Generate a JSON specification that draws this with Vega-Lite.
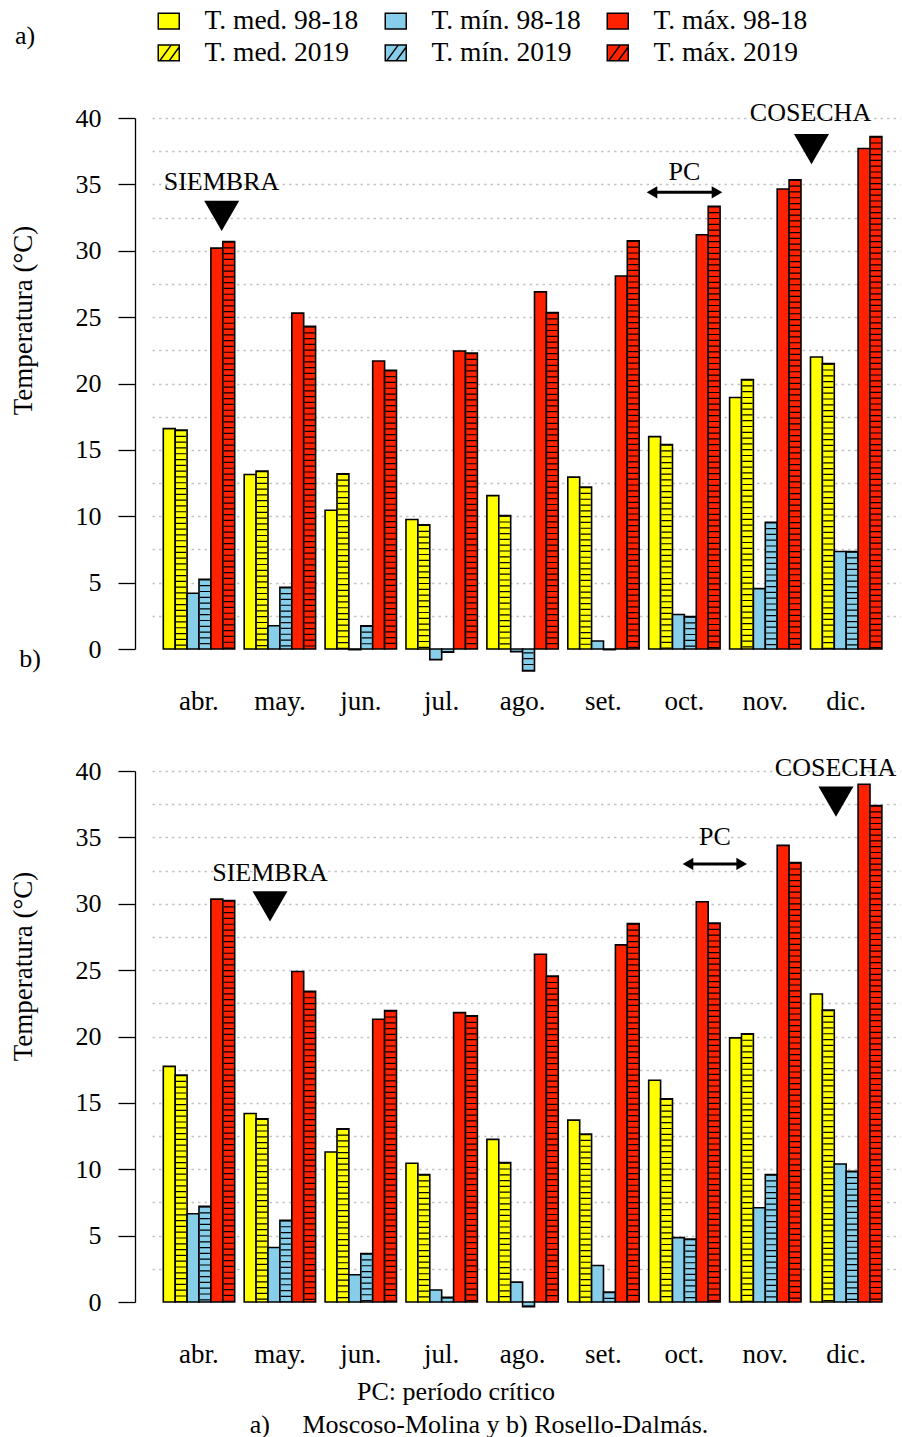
{
  "$schema": "https://vega.github.io/schema/vega-lite/v6.json",
  "padding": {"left": 9, "top": 7, "right": 2, "bottom": 5},
  "bounds": "flush",
  "spacing": 122,
  "datasets": {
    "a": [
      {"m": "abr.", "s": "T. med. 98-18", "v": 16.6}, {"m": "abr.", "s": "T. med. 2019", "v": 16.5}, {"m": "abr.", "s": "T. mín. 98-18", "v": 4.2}, {"m": "abr.", "s": "T. mín. 2019", "v": 5.25}, {"m": "abr.", "s": "T. máx. 98-18", "v": 30.2}, {"m": "abr.", "s": "T. máx. 2019", "v": 30.7},
      {"m": "may.", "s": "T. med. 98-18", "v": 13.15}, {"m": "may.", "s": "T. med. 2019", "v": 13.4}, {"m": "may.", "s": "T. mín. 98-18", "v": 1.75}, {"m": "may.", "s": "T. mín. 2019", "v": 4.65}, {"m": "may.", "s": "T. máx. 98-18", "v": 25.3}, {"m": "may.", "s": "T. máx. 2019", "v": 24.3},
      {"m": "jun.", "s": "T. med. 98-18", "v": 10.45}, {"m": "jun.", "s": "T. med. 2019", "v": 13.2}, {"m": "jun.", "s": "T. mín. 98-18", "v": -0.05}, {"m": "jun.", "s": "T. mín. 2019", "v": 1.75}, {"m": "jun.", "s": "T. máx. 98-18", "v": 21.7}, {"m": "jun.", "s": "T. máx. 2019", "v": 21.0},
      {"m": "jul.", "s": "T. med. 98-18", "v": 9.75}, {"m": "jul.", "s": "T. med. 2019", "v": 9.35}, {"m": "jul.", "s": "T. mín. 98-18", "v": -0.8}, {"m": "jul.", "s": "T. mín. 2019", "v": -0.25}, {"m": "jul.", "s": "T. máx. 98-18", "v": 22.45}, {"m": "jul.", "s": "T. máx. 2019", "v": 22.3},
      {"m": "ago.", "s": "T. med. 98-18", "v": 11.55}, {"m": "ago.", "s": "T. med. 2019", "v": 10.05}, {"m": "ago.", "s": "T. mín. 98-18", "v": -0.2}, {"m": "ago.", "s": "T. mín. 2019", "v": -1.65}, {"m": "ago.", "s": "T. máx. 98-18", "v": 26.9}, {"m": "ago.", "s": "T. máx. 2019", "v": 25.35},
      {"m": "set.", "s": "T. med. 98-18", "v": 12.95}, {"m": "set.", "s": "T. med. 2019", "v": 12.2}, {"m": "set.", "s": "T. mín. 98-18", "v": 0.6}, {"m": "set.", "s": "T. mín. 2019", "v": -0.05}, {"m": "set.", "s": "T. máx. 98-18", "v": 28.1}, {"m": "set.", "s": "T. máx. 2019", "v": 30.75},
      {"m": "oct.", "s": "T. med. 98-18", "v": 16.0}, {"m": "oct.", "s": "T. med. 2019", "v": 15.4}, {"m": "oct.", "s": "T. mín. 98-18", "v": 2.6}, {"m": "oct.", "s": "T. mín. 2019", "v": 2.45}, {"m": "oct.", "s": "T. máx. 98-18", "v": 31.2}, {"m": "oct.", "s": "T. máx. 2019", "v": 33.35},
      {"m": "nov.", "s": "T. med. 98-18", "v": 18.95}, {"m": "nov.", "s": "T. med. 2019", "v": 20.3}, {"m": "nov.", "s": "T. mín. 98-18", "v": 4.55}, {"m": "nov.", "s": "T. mín. 2019", "v": 9.55}, {"m": "nov.", "s": "T. máx. 98-18", "v": 34.65}, {"m": "nov.", "s": "T. máx. 2019", "v": 35.35},
      {"m": "dic.", "s": "T. med. 98-18", "v": 22.0}, {"m": "dic.", "s": "T. med. 2019", "v": 21.5}, {"m": "dic.", "s": "T. mín. 98-18", "v": 7.35}, {"m": "dic.", "s": "T. mín. 2019", "v": 7.35}, {"m": "dic.", "s": "T. máx. 98-18", "v": 37.7}, {"m": "dic.", "s": "T. máx. 2019", "v": 38.6}
    ],
    "b": [
      {"m": "abr.", "s": "T. med. 98-18", "v": 17.75}, {"m": "abr.", "s": "T. med. 2019", "v": 17.1}, {"m": "abr.", "s": "T. mín. 98-18", "v": 6.65}, {"m": "abr.", "s": "T. mín. 2019", "v": 7.2}, {"m": "abr.", "s": "T. máx. 98-18", "v": 30.35}, {"m": "abr.", "s": "T. máx. 2019", "v": 30.25},
      {"m": "may.", "s": "T. med. 98-18", "v": 14.2}, {"m": "may.", "s": "T. med. 2019", "v": 13.8}, {"m": "may.", "s": "T. mín. 98-18", "v": 4.1}, {"m": "may.", "s": "T. mín. 2019", "v": 6.15}, {"m": "may.", "s": "T. máx. 98-18", "v": 24.9}, {"m": "may.", "s": "T. máx. 2019", "v": 23.4},
      {"m": "jun.", "s": "T. med. 98-18", "v": 11.3}, {"m": "jun.", "s": "T. med. 2019", "v": 13.05}, {"m": "jun.", "s": "T. mín. 98-18", "v": 2.05}, {"m": "jun.", "s": "T. mín. 2019", "v": 3.65}, {"m": "jun.", "s": "T. máx. 98-18", "v": 21.3}, {"m": "jun.", "s": "T. máx. 2019", "v": 21.95},
      {"m": "jul.", "s": "T. med. 98-18", "v": 10.45}, {"m": "jul.", "s": "T. med. 2019", "v": 9.6}, {"m": "jul.", "s": "T. mín. 98-18", "v": 0.9}, {"m": "jul.", "s": "T. mín. 2019", "v": 0.35}, {"m": "jul.", "s": "T. máx. 98-18", "v": 21.8}, {"m": "jul.", "s": "T. máx. 2019", "v": 21.55},
      {"m": "ago.", "s": "T. med. 98-18", "v": 12.25}, {"m": "ago.", "s": "T. med. 2019", "v": 10.5}, {"m": "ago.", "s": "T. mín. 98-18", "v": 1.5}, {"m": "ago.", "s": "T. mín. 2019", "v": -0.35}, {"m": "ago.", "s": "T. máx. 98-18", "v": 26.2}, {"m": "ago.", "s": "T. máx. 2019", "v": 24.55},
      {"m": "set.", "s": "T. med. 98-18", "v": 13.7}, {"m": "set.", "s": "T. med. 2019", "v": 12.65}, {"m": "set.", "s": "T. mín. 98-18", "v": 2.75}, {"m": "set.", "s": "T. mín. 2019", "v": 0.75}, {"m": "set.", "s": "T. máx. 98-18", "v": 26.9}, {"m": "set.", "s": "T. máx. 2019", "v": 28.5},
      {"m": "oct.", "s": "T. med. 98-18", "v": 16.7}, {"m": "oct.", "s": "T. med. 2019", "v": 15.3}, {"m": "oct.", "s": "T. mín. 98-18", "v": 4.85}, {"m": "oct.", "s": "T. mín. 2019", "v": 4.75}, {"m": "oct.", "s": "T. máx. 98-18", "v": 30.15}, {"m": "oct.", "s": "T. máx. 2019", "v": 28.55},
      {"m": "nov.", "s": "T. med. 98-18", "v": 19.9}, {"m": "nov.", "s": "T. med. 2019", "v": 20.2}, {"m": "nov.", "s": "T. mín. 98-18", "v": 7.1}, {"m": "nov.", "s": "T. mín. 2019", "v": 9.6}, {"m": "nov.", "s": "T. máx. 98-18", "v": 34.4}, {"m": "nov.", "s": "T. máx. 2019", "v": 33.1},
      {"m": "dic.", "s": "T. med. 98-18", "v": 23.2}, {"m": "dic.", "s": "T. med. 2019", "v": 22.0}, {"m": "dic.", "s": "T. mín. 98-18", "v": 10.4}, {"m": "dic.", "s": "T. mín. 2019", "v": 9.85}, {"m": "dic.", "s": "T. máx. 98-18", "v": 39.0}, {"m": "dic.", "s": "T. máx. 2019", "v": 37.4}
    ],
    "one": [{}]
  },
  "vconcat": [
    {
      "width": 748, "height": 531,
      "encoding": {
        "x": {"type": "nominal", "scale": {"domain": ["abr.", "may.", "jun.", "jul.", "ago.", "set.", "oct.", "nov.", "dic."], "paddingInner": 0.1174, "paddingOuter": 0.1817, "align": 0.384},
              "axis": {"title": null, "domain": false, "ticks": false, "labelAngle": 0, "labelFont": "Liberation Serif", "labelFontSize": 27, "labelColor": "black", "labelPadding": 39}},
        "y": {"type": "quantitative", "scale": {"domain": [0, 40], "nice": false, "zero": false},
              "axis": {"orient": "left", "values": [0, 2.5, 5, 7.5, 10, 12.5, 15, 17.5, 20, 22.5, 25, 27.5, 30, 32.5, 35, 37.5, 40],
                       "labelExpr": "datum.value % 5 === 0 ? datum.label : ''",
                       "grid": true, "gridDash": [2.5, 4], "gridWidth": 1.4, "gridColor": {"expr": "datum.value === 0 ? 'transparent' : '#c4c4c4'"},
                       "offset": 17, "tickSize": 17, "tickColor": {"expr": "datum.value % 5 === 0 ? 'black' : 'transparent'"}, "tickWidth": 1.3, "domainColor": "black", "domainWidth": 1.3,
                       "labelFont": "Liberation Serif", "labelFontSize": 26, "labelColor": "black", "labelPadding": 17,
                       "title": "Temperatura (°C)", "titleFont": "Liberation Serif", "titleFontSize": 27, "titleFontWeight": "normal", "titleColor": "black", "titleX": -98, "titleY": 202}}
      },
      "layer": [
        {
          "data": {"name": "a"},
          "mark": {"type": "bar", "stroke": "#000000", "strokeWidth": 1.6},
          "encoding": {
            "x": {"field": "m"},
            "xOffset": {"field": "s", "type": "nominal", "scale": {"domain": ["T. med. 98-18", "T. med. 2019", "T. mín. 98-18", "T. mín. 2019", "T. máx. 98-18", "T. máx. 2019"], "paddingInner": 0, "paddingOuter": 0}},
            "y": {"field": "v"},
            "fill": {"field": "s", "type": "nominal",
                     "scale": {"domain": ["T. med. 98-18", "T. mín. 98-18", "T. máx. 98-18", "T. med. 2019", "T. mín. 2019", "T. máx. 2019"], "range": ["#FFFF00", "#87CEEB", "#FF2200", "#FFFF00", "#87CEEB", "#FF2200"]},
                     "legend": {"orient": "none", "legendX": 3, "legendY": -111, "columns": 3, "direction": "horizontal", "title": null, "symbolSize": 441, "padding": 0,
                                "labelFont": "Liberation Serif", "labelFontSize": 27.5, "labelColor": "black", "labelOffset": 22, "columnPadding": 23, "rowPadding": 3,
                                "symbolStrokeColor": "black", "symbolStrokeWidth": 1.5,
                                "encode": {"symbols": {"update": {"shape": {"signal": "indexof(datum.value, '2019') >= 0 ? 'M-1,-0.75H1V0.75H-1Z M-0.85,0.75L0.25,-0.75 M0.05,0.75L1,-0.55' : 'M-1,-0.75H1V0.75H-1Z'"}, "stroke": {"value": "black"}, "strokeWidth": {"value": 1.5}}}}}}
          }
        },
        {
          "data": {"name": "a"},
          "transform": [{"filter": {"field": "s", "oneOf": ["T. med. 2019", "T. mín. 2019", "T. máx. 2019"]}}],
          "mark": {"type": "rule", "color": "black", "strokeWidth": 10.2, "strokeDash": [1.2, 4.6], "strokeCap": "butt"},
          "encoding": {
            "x": {"field": "m"},
            "xOffset": {"field": "s", "type": "nominal"},
            "y": {"field": "v"},
            "y2": {"datum": 0}
          }
        },
        {"data": {"name": "one"}, "mark": {"type": "text", "font": "Liberation Serif", "fontSize": 26, "color": "black", "baseline": "middle", "xOffset": 22.5},
         "encoding": {"x": {"datum": "abr."}, "y": {"datum": 35.2}, "text": {"value": "SIEMBRA"}}},
        {"data": {"name": "one"}, "mark": {"type": "point", "shape": "triangle-down", "filled": true, "color": "black", "opacity": 1, "size": 1225, "xOffset": 22.7},
         "encoding": {"x": {"datum": "abr."}, "y": {"datum": 32.62}}},
        {"data": {"name": "one"}, "mark": {"type": "text", "font": "Liberation Serif", "fontSize": 26, "color": "black", "baseline": "middle", "xOffset": 0},
         "encoding": {"x": {"datum": "oct."}, "y": {"datum": 35.9}, "text": {"value": "PC"}}},
        {"data": {"name": "one"}, "mark": {"type": "rule", "color": "black", "strokeWidth": 3, "xOffset": -33, "x2Offset": 33},
         "encoding": {"x": {"datum": "oct."}, "x2": {"datum": "oct."}, "y": {"datum": 34.4}}},
        {"data": {"name": "one"}, "mark": {"type": "point", "shape": "triangle-left", "filled": true, "color": "black", "opacity": 1, "size": 150, "xOffset": -32.4},
         "encoding": {"x": {"datum": "oct."}, "y": {"datum": 34.4}}},
        {"data": {"name": "one"}, "mark": {"type": "point", "shape": "triangle-right", "filled": true, "color": "black", "opacity": 1, "size": 150, "xOffset": 32.6},
         "encoding": {"x": {"datum": "oct."}, "y": {"datum": 34.4}}},
        {"data": {"name": "one"}, "mark": {"type": "text", "font": "Liberation Serif", "fontSize": 26, "color": "black", "baseline": "middle", "xOffset": -35.7},
         "encoding": {"x": {"datum": "dic."}, "y": {"datum": 40.4}, "text": {"value": "COSECHA"}}},
        {"data": {"name": "one"}, "mark": {"type": "point", "shape": "triangle-down", "filled": true, "color": "black", "opacity": 1, "size": 1225, "xOffset": -34.7},
         "encoding": {"x": {"datum": "dic."}, "y": {"datum": 37.66}}},
        {"data": {"name": "one"}, "mark": {"type": "text", "font": "Liberation Serif", "fontSize": 26, "color": "black", "baseline": "middle", "xOffset": -174},
         "encoding": {"x": {"datum": "abr."}, "y": {"datum": 46.2}, "text": {"value": "a)"}}}
      ]
    },
    {
      "width": 748, "height": 531,
      "encoding": {
        "x": {"type": "nominal", "scale": {"domain": ["abr.", "may.", "jun.", "jul.", "ago.", "set.", "oct.", "nov.", "dic."], "paddingInner": 0.1174, "paddingOuter": 0.1817, "align": 0.384},
              "axis": {"title": null, "domain": false, "ticks": false, "labelAngle": 0, "labelFont": "Liberation Serif", "labelFontSize": 27, "labelColor": "black", "labelPadding": 39}},
        "y": {"type": "quantitative", "scale": {"domain": [0, 40], "nice": false, "zero": false},
              "axis": {"orient": "left", "values": [0, 2.5, 5, 7.5, 10, 12.5, 15, 17.5, 20, 22.5, 25, 27.5, 30, 32.5, 35, 37.5, 40],
                       "labelExpr": "datum.value % 5 === 0 ? datum.label : ''",
                       "grid": true, "gridDash": [2.5, 4], "gridWidth": 1.4, "gridColor": {"expr": "datum.value === 0 ? 'transparent' : '#c4c4c4'"},
                       "offset": 17, "tickSize": 17, "tickColor": {"expr": "datum.value % 5 === 0 ? 'black' : 'transparent'"}, "tickWidth": 1.3, "domainColor": "black", "domainWidth": 1.3,
                       "labelFont": "Liberation Serif", "labelFontSize": 26, "labelColor": "black", "labelPadding": 17,
                       "title": "Temperatura (°C)", "titleFont": "Liberation Serif", "titleFontSize": 27, "titleFontWeight": "normal", "titleColor": "black", "titleX": -98, "titleY": 195}}
      },
      "layer": [
        {
          "data": {"name": "b"},
          "mark": {"type": "bar", "stroke": "#000000", "strokeWidth": 1.6},
          "encoding": {
            "x": {"field": "m"},
            "xOffset": {"field": "s", "type": "nominal", "scale": {"domain": ["T. med. 98-18", "T. med. 2019", "T. mín. 98-18", "T. mín. 2019", "T. máx. 98-18", "T. máx. 2019"], "paddingInner": 0, "paddingOuter": 0}},
            "y": {"field": "v"},
            "fill": {"field": "s", "type": "nominal",
                     "scale": {"domain": ["T. med. 98-18", "T. mín. 98-18", "T. máx. 98-18", "T. med. 2019", "T. mín. 2019", "T. máx. 2019"], "range": ["#FFFF00", "#87CEEB", "#FF2200", "#FFFF00", "#87CEEB", "#FF2200"]},
                     "legend": null}
          }
        },
        {
          "data": {"name": "b"},
          "transform": [{"filter": {"field": "s", "oneOf": ["T. med. 2019", "T. mín. 2019", "T. máx. 2019"]}}],
          "mark": {"type": "rule", "color": "black", "strokeWidth": 10.2, "strokeDash": [1.2, 4.6], "strokeCap": "butt"},
          "encoding": {
            "x": {"field": "m"},
            "xOffset": {"field": "s", "type": "nominal"},
            "y": {"field": "v"},
            "y2": {"datum": 0}
          }
        },
        {"data": {"name": "one"}, "mark": {"type": "text", "font": "Liberation Serif", "fontSize": 26, "color": "black", "baseline": "middle", "xOffset": -9.9},
         "encoding": {"x": {"datum": "may."}, "y": {"datum": 32.3}, "text": {"value": "SIEMBRA"}}},
        {"data": {"name": "one"}, "mark": {"type": "point", "shape": "triangle-down", "filled": true, "color": "black", "opacity": 1, "size": 1225, "xOffset": -9.9},
         "encoding": {"x": {"datum": "may."}, "y": {"datum": 29.8}}},
        {"data": {"name": "one"}, "mark": {"type": "text", "font": "Liberation Serif", "fontSize": 26, "color": "black", "baseline": "middle", "xOffset": 30.6},
         "encoding": {"x": {"datum": "oct."}, "y": {"datum": 35.0}, "text": {"value": "PC"}}},
        {"data": {"name": "one"}, "mark": {"type": "rule", "color": "black", "strokeWidth": 3, "xOffset": 3, "x2Offset": 58},
         "encoding": {"x": {"datum": "oct."}, "x2": {"datum": "oct."}, "y": {"datum": 33.0}}},
        {"data": {"name": "one"}, "mark": {"type": "point", "shape": "triangle-left", "filled": true, "color": "black", "opacity": 1, "size": 150, "xOffset": 3.6},
         "encoding": {"x": {"datum": "oct."}, "y": {"datum": 33.0}}},
        {"data": {"name": "one"}, "mark": {"type": "point", "shape": "triangle-right", "filled": true, "color": "black", "opacity": 1, "size": 150, "xOffset": 57.3},
         "encoding": {"x": {"datum": "oct."}, "y": {"datum": 33.0}}},
        {"data": {"name": "one"}, "mark": {"type": "text", "font": "Liberation Serif", "fontSize": 26, "color": "black", "baseline": "middle", "xOffset": -10.7},
         "encoding": {"x": {"datum": "dic."}, "y": {"datum": 40.2}, "text": {"value": "COSECHA"}}},
        {"data": {"name": "one"}, "mark": {"type": "point", "shape": "triangle-down", "filled": true, "color": "black", "opacity": 1, "size": 1225, "xOffset": -10.2},
         "encoding": {"x": {"datum": "dic."}, "y": {"datum": 37.7}}},
        {"data": {"name": "one"}, "mark": {"type": "text", "font": "Liberation Serif", "fontSize": 26, "color": "black", "baseline": "middle", "xOffset": -169},
         "encoding": {"x": {"datum": "abr."}, "y": {"datum": 48.4}, "text": {"value": "b)"}}},
        {"data": {"name": "one"}, "mark": {"type": "text", "font": "Liberation Serif", "fontSize": 26, "color": "black", "baseline": "middle", "xOffset": -66.6},
         "encoding": {"x": {"datum": "ago."}, "y": {"datum": -6.76}, "text": {"value": "PC: período crítico"}}},
        {"data": {"name": "one"}, "mark": {"type": "text", "font": "Liberation Serif", "fontSize": 26, "color": "black", "baseline": "middle", "xOffset": -43.6},
         "encoding": {"x": {"datum": "ago."}, "y": {"datum": -9.25}, "text": {"value": "a)\u00a0\u00a0\u00a0\u00a0 Moscoso-Molina y b) Rosello-Dalmás."}}}
      ]
    }
  ],
  "config": {"view": {"stroke": null}, "font": "Liberation Serif"}
}
